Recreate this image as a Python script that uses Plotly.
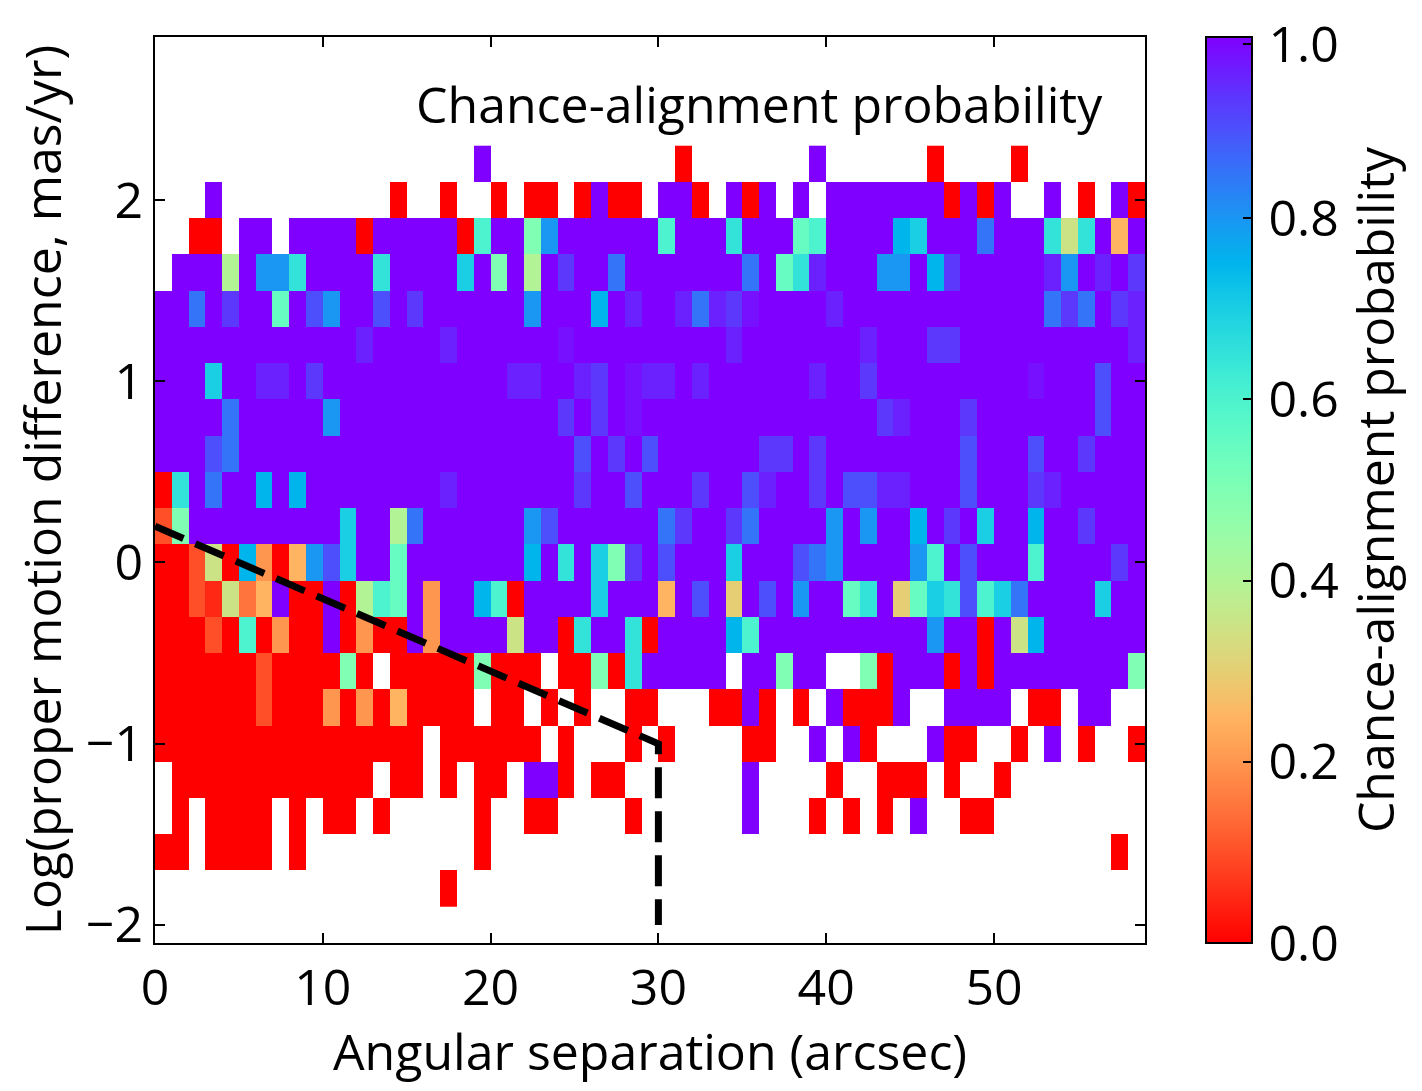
import math
import numpy as np
import plotly.graph_objects as go

# ---- data -------------------------------------------------------------
# bin centres
sep_centers = [i + 0.5 for i in range(59)]            # angular separation (arcsec)
logpm_centers = [round(2.2 - 0.2 * k, 1) for k in range(21)]  # top row first

# cell codes -> chance-alignment probability ('.' = empty bin)
code_values = {'0': 0.0, 'f': 0.05, '1': 0.1, 'e': 0.15, '2': 0.2, 'o': 0.25,
               '3': 0.3, 'y': 0.35, '4': 0.4, '5': 0.5, 'h': 0.55, '6': 0.6,
               'g': 0.65, '7': 0.7, 'c': 0.75, '8': 0.8, 'b': 0.85, '9': 0.9,
               'v': 0.93, 'q': 0.96, 'u': 0.98, 'p': 1.0}

# rows from log = 2.2 (top) down to -1.8; columns 0-19 | 20-39 | 40-58
prob_rows = [
    "...................p" + "...........0.......p" + "......0....0.......",
    "...p..........0..0.." + "0.00.0p00.pp0.p0p.p." + "ppppppp0p0p..p.0.p0",
    "..00.pp.pppp0ppppp06" + "pp58pppppp6pppgppph6" + "ppppc7pppbpppgygpop",
    ".ppp4p88gppppgpppp7p" + "5p4pvppbpppppppbphgq" + "ppp88pcvpppppq8pqpv",
    "ppbpvpphp98pp9pvpppp" + "pp8pppcpqppqbqvupppp" + "qppppppppppppbvbpvq",
    "ppppppppppppqppppqpp" + "ppppupppppppppqppppp" + "ppqpppvvppppppppppq",
    "ppp7ppqqpvpppppppppp" + "pqqppqvpuqqpqppppppq" + "ppvpppppppppuppp9pp",
    "ppppbppppp8ppppppppp" + "ppppvpvpuppppppppppp" + "pppvqpppvppppppp9pp",
    "ppp9bppppppppppppppp" + "ppppp9pvp9ppppppvvpv" + "pppppppp9ppp9ppvppp",
    "0gpbppcpcppppppppqpp" + "pppppvpp9pppvpp9qppv" + "p99qqppp9pppvqppppp",
    "15ppppppppp7pp4bpppp" + "pp89ppppppbvppvbpppp" + "8p8ppcpvp7ppcppvppp",
    "001y0c20o897pphppppp" + "ppcpgp75vp9ppp7ppp9b" + "8pppp86p9ppp6ppppvp",
    "001fyeop00p046hp2ppc" + "60pppp7pppop9p3p9p8p" + "phgp3h7g967bpppp7pp",
    "0001060200p0200p2ppp" + "pypp0gppg0ppppc6pppp" + "pppppp8pp0pycpppppp",
    "0000001000050.000005" + "000.0050gppppp.pp5pp" + "..50ppp0p0pppppppp5",
    "00000010002020o0000." + "00.0.0..00...00p0.0." + "p000p..pppp.00.pp..",
    "0000000000000000.000" + "000.0...0.0....00..p" + ".p0...p00..0.p.0..0",
    ".000000000000.00.0.0" + "0.pp0.00.......p...." + "0..000.0..0........",
    ".0.0000.0.00.0.....0" + "..00....0......p...0" + ".0.0.p..00.........",
    "00.0000.0..........0" + "...................." + ".................0.",
    ".................0.." + "...................." + "...................",
]

# dashed selection boundary
line_x = [0, 30, 30]
line_y = [0.2, -1.0, -2.0]

x_ticks = [0, 10, 20, 30, 40, 50]
y_ticks = [-2, -1, 0, 1, 2]
cb_ticks = [0.0, 0.2, 0.4, 0.6, 0.8, 0.992]   # top label nudged just inside the bar
cb_ticktext = ["0.0", "0.2", "0.4", "0.6", "0.8", "1.0"]

# ---- build grid ------------------------------------------------------
z = []
for row in prob_rows:
    row = (row + "." * 59)[:59]
    z.append([code_values.get(ch, None) if ch != '.' else None for ch in row])


# matplotlib 'rainbow_r'
def rainbow(t):
    r = min(1.0, abs(2 * t - 0.5))
    g = math.sin(math.pi * t)
    b = math.cos(math.pi * t / 2)
    return "rgb(%d,%d,%d)" % (round(255 * r), round(255 * max(g, 0)), round(255 * max(b, 0)))


colorscale = [[s / 40, rainbow(1 - s / 40)] for s in range(41)]

FONT = "Open Sans"
FS = 50

fig = go.Figure()
fig.add_trace(go.Heatmap(
    x=sep_centers, y=logpm_centers, z=z,
    zmin=0, zmax=1, colorscale=colorscale, hoverongaps=False,
    colorbar=dict(
        x=1.0615, xanchor="left", xref="paper",
        y=0.5, yanchor="middle", len=1, lenmode="fraction",
        thickness=46, thicknessmode="pixels",
        xpad=0, ypad=0,
        outlinewidth=2, outlinecolor="black",
        ticks="inside", ticklen=10, tickwidth=2, tickcolor="black",
        tickvals=cb_ticks, ticktext=["\u200a" + t for t in cb_ticktext],
        ticklabeloverflow="allow",
        tickfont=dict(family=FONT, size=FS, color="black"),
        title=dict(text="Chance-alignment probability", side="right",
                   font=dict(family=FONT, size=FS, color="black")),
    ),
))

fig.add_trace(go.Scatter(
    x=line_x, y=line_y, mode="lines",
    line=dict(color="black", width=7, dash="31px,13px"),
    hoverinfo="skip", showlegend=False,
))

fig.add_annotation(
    x=36.0, y=2.53, xref="x", yref="y",
    text="Chance-alignment probability", showarrow=False,
    xanchor="center", yanchor="middle",
    font=dict(family=FONT, size=FS, color="black"),
)

# x-axis title placed explicitly (margin constraint would otherwise push it down)
fig.add_annotation(
    x=0.5, y=-0.1192, xref="paper", yref="paper",
    text="Angular separation (arcsec)", showarrow=False,
    xanchor="center", yanchor="middle",
    font=dict(family=FONT, size=FS, color="black"),
)

axis_common = dict(
    showgrid=False, zeroline=False, showline=True, linewidth=2, linecolor="black",
    mirror="ticks", ticks="inside", ticklen=10, tickwidth=2, tickcolor="black",
    tickfont=dict(family=FONT, size=FS, color="black"),
)

# the page body adds an 8 px offset; size/margins compensate for it
fig.update_layout(
    width=1414, height=1083, autosize=False,
    margin=dict(l=147, r=275, t=29, b=148),
    paper_bgcolor="white", plot_bgcolor="white",
    font=dict(family=FONT, size=FS, color="black"),
    showlegend=False,
    xaxis=dict(range=[0, 59], tickvals=x_ticks, **axis_common),
    yaxis=dict(range=[-2.1, 2.9], tickvals=y_ticks,
               title=dict(text="Log(proper motion difference, mas/yr)", standoff=14,
                          font=dict(family=FONT, size=FS, color="black")),
               **axis_common),
)

fig.write_html("out.html", config={"displayModeBar": False})
